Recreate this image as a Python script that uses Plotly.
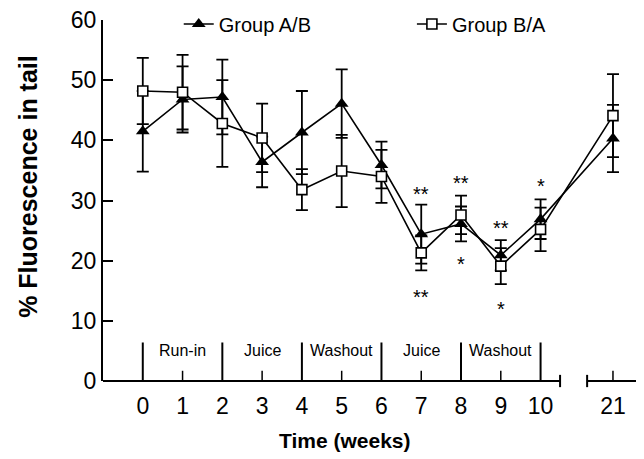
import plotly.graph_objects as go

# ---- data ----
weeks = [0, 1, 2, 3, 4, 5, 6, 7, 8, 9, 10, 21]
ab_mean = [41.5, 46.8, 47.2, 36.4, 41.3, 46.1, 35.9, 24.4, 26.1, 20.9, 26.9, 40.3]
ab_err = [6.7, 5.5, 6.2, 4.2, 6.9, 5.7, 3.9, 4.9, 2.9, 2.5, 3.3, 5.6]
ba_mean = [48.2, 48.0, 42.8, 40.4, 31.8, 34.9, 34.0, 21.3, 27.6, 19.1, 25.2, 44.1]
ba_err = [5.5, 6.2, 7.2, 5.7, 3.4, 6.0, 4.4, 2.9, 3.2, 3.0, 3.6, 6.9]

tick_labels = ["0", "1", "2", "3", "4", "5", "6", "7", "8", "9", "10", "21"]
period_names = ["Run-in", "Juice", "Washout", "Juice", "Washout"]
period_bounds = [0, 2, 4, 6, 8, 10]

star_weeks = [7, 7, 8, 8, 9, 9, 10]
star_y = [32.1, 15.0, 33.9, 20.5, 26.4, 12.9, 33.4]
star_text = ["**", "**", "**", "*", "**", "*", "*"]

# ---- broken x scale: weeks after the break are shifted left ----
BREAK_END = 10.49      # left axis segment ends here
BREAK_RESUME = 11.17   # right axis segment starts here
SHIFT = 9.18           # week 21 -> position 11.82


def xpos(w):
    return w if w <= 10.5 else w - SHIFT


FONT = "Liberation Sans, Arial, sans-serif"
xs = [xpos(w) for w in weeks]

fig = go.Figure()
fig.add_trace(go.Scatter(
    x=xs, y=ab_mean, name="Group A/B", mode="lines+markers", legend="legend",
    line=dict(color="black", width=1.6),
    marker=dict(symbol="triangle-up", size=12, color="black"),
    error_y=dict(type="data", array=ab_err, visible=True, color="black",
                 thickness=1.8, width=6),
))
fig.add_trace(go.Scatter(
    x=xs, y=ba_mean, name="Group B/A", mode="lines+markers", legend="legend2",
    line=dict(color="black", width=1.6),
    marker=dict(symbol="square", size=10, color="white",
                line=dict(color="black", width=1.6)),
    error_y=dict(type="data", array=ba_err, visible=True, color="black",
                 thickness=1.8, width=6),
))

shapes = []
# broken x axis line
shapes.append(dict(type="line", xref="x", yref="paper", x0=-1, x1=BREAK_END,
                   y0=0, y1=0, line=dict(color="black", width=2)))
shapes.append(dict(type="line", xref="x", yref="paper", x0=BREAK_RESUME, x1=12.7,
                   y0=0, y1=0, line=dict(color="black", width=2)))
for bx in (BREAK_END, BREAK_RESUME):
    shapes.append(dict(type="line", xref="x", yref="paper", x0=bx, x1=bx,
                       y0=-0.017, y1=0.017, line=dict(color="black", width=2)))
# tall period dividers
for b in period_bounds:
    shapes.append(dict(type="line", xref="x", yref="y", x0=b, x1=b, y0=0, y1=6.4,
                       line=dict(color="black", width=2)))
# short ticks
for w in weeks:
    if w not in period_bounds:
        p = xpos(w)
        shapes.append(dict(type="line", xref="x", yref="y", x0=p, x1=p, y0=0, y1=1.7,
                           line=dict(color="black", width=1.5)))

annotations = []
for i, name in enumerate(period_names):
    mid = (period_bounds[i] + period_bounds[i + 1]) / 2
    annotations.append(dict(x=mid, y=5.15, xref="x", yref="y", text=name,
                            showarrow=False, font=dict(size=16, family=FONT, color="black")))
for w, yv, t in zip(star_weeks, star_y, star_text):
    annotations.append(dict(x=xpos(w), y=yv, xref="x", yref="y", text=t,
                            showarrow=False, yshift=-6,
                            font=dict(size=20, family=FONT, color="black")))
annotations.append(dict(x=-0.139, y=0.54, xref="paper", yref="paper",
                        xanchor="center", yanchor="middle",
                        text="<b>% Fluorescence in tail</b>", textangle=-90,
                        showarrow=False, font=dict(size=25, family=FONT, color="black")))
annotations.append(dict(x=0.447, y=-0.165, xref="paper", yref="paper",
                        xanchor="center", yanchor="middle",
                        text="<b>Time (weeks)</b>", showarrow=False,
                        font=dict(size=21, family=FONT, color="black")))

leg_common = dict(orientation="h", yanchor="middle", y=0.989, xanchor="left",
                  bgcolor="rgba(0,0,0,0)", font=dict(size=20, family=FONT, color="black"))
# the page body adds an 8px offset, so the figure is 8px smaller than the window
fig.update_layout(
    width=636, height=451,
    margin=dict(l=95, r=0, t=12, b=78, autoexpand=False),
    paper_bgcolor="white", plot_bgcolor="white",
    font=dict(family=FONT, color="black"),
    shapes=shapes, annotations=annotations,
    showlegend=True,
    legend=dict(x=0.14, **leg_common),
    legend2=dict(x=0.571, **leg_common),
)
fig.update_xaxes(
    range=[-1, 12.6], showgrid=False, zeroline=False, showline=False,
    tickvals=xs, ticktext=tick_labels, ticks="", ticklabelstandoff=9,
    ticklabeloverflow="allow",
    tickfont=dict(size=23, family=FONT, color="black"),
)
fig.update_yaxes(
    range=[0, 60], showgrid=False, zeroline=False, showline=True,
    linecolor="black", linewidth=2, ticks="inside", ticklen=10, tickwidth=2,
    tickcolor="black", tickvals=[0, 10, 20, 30, 40, 50, 60],
    ticklabeloverflow="allow",
    tickfont=dict(size=23, family=FONT, color="black"),
)

fig.write_html("out.html")
